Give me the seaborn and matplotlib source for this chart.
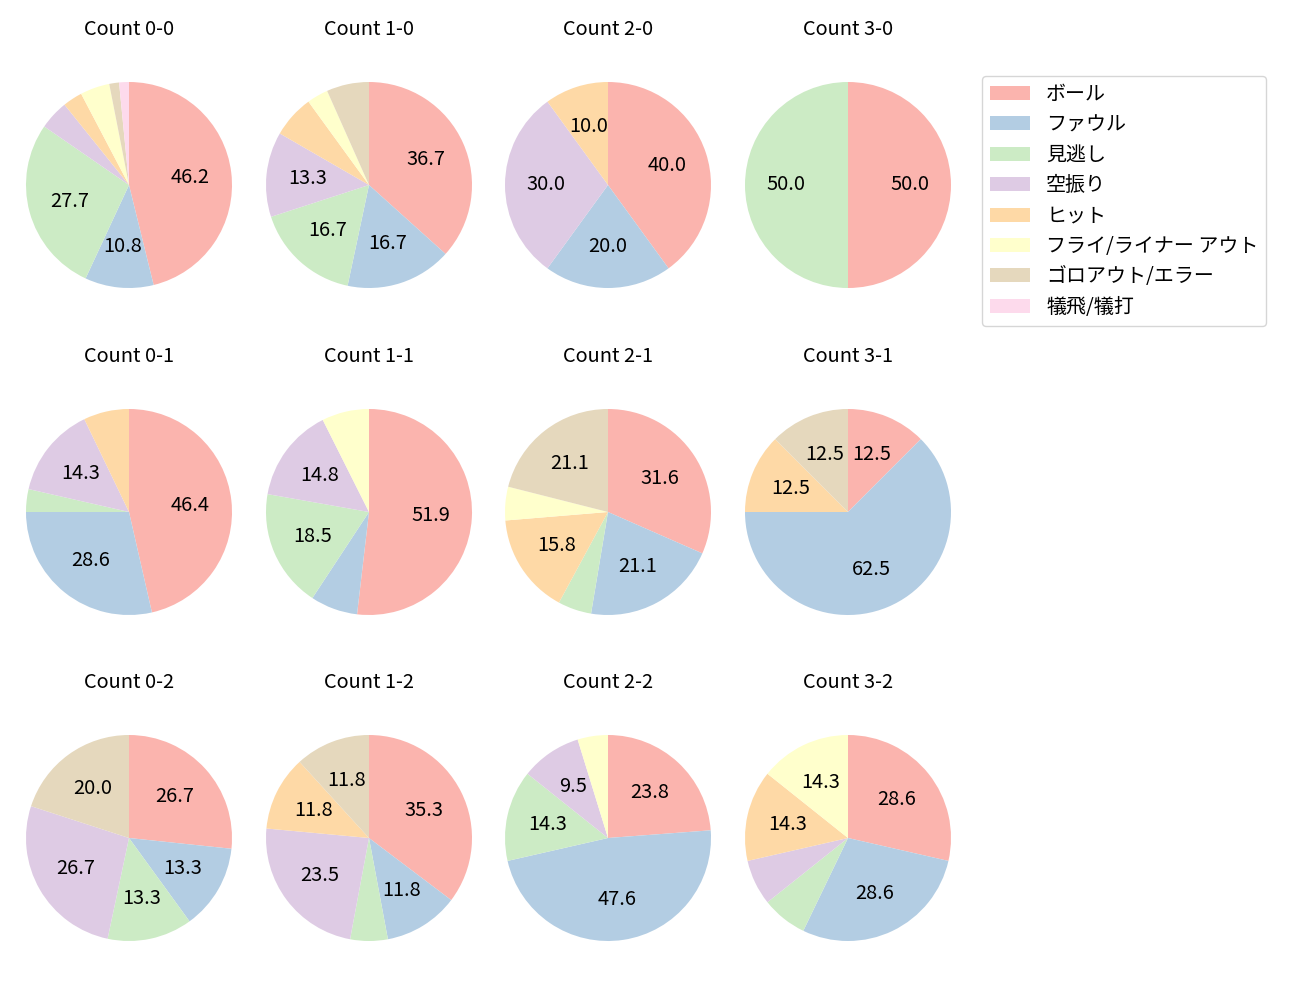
import matplotlib
matplotlib.use("Agg")
import matplotlib.pyplot as plt
import seaborn as sns
from matplotlib.patches import Patch

plt.rcParams['font.family'] = ['Noto Sans CJK JP', 'DejaVu Sans']

categories = ["ボール", "ファウル", "見逃し", "空振り", "ヒット",
              "フライ/ライナー アウト", "ゴロアウト/エラー", "犠飛/犠打"]

counts = ["0-0", "1-0", "2-0", "3-0",
          "0-1", "1-1", "2-1", "3-1",
          "0-2", "1-2", "2-2", "3-2"]

# pitch counts per category (ball, foul, called, swinging, hit, fly, ground, sac)
c00 = [30, 7, 18, 3, 2, 3, 1, 1]
c10 = [11, 5, 5, 4, 2, 1, 2, 0]
c20 = [4, 2, 0, 3, 1, 0, 0, 0]
c30 = [1, 0, 1, 0, 0, 0, 0, 0]
c01 = [13, 8, 1, 4, 2, 0, 0, 0]
c11 = [14, 2, 5, 4, 0, 2, 0, 0]
c21 = [6, 4, 1, 0, 3, 1, 4, 0]
c31 = [1, 5, 0, 0, 1, 0, 1, 0]
c02 = [4, 2, 2, 4, 0, 0, 3, 0]
c12 = [6, 2, 1, 4, 2, 0, 2, 0]
c22 = [5, 10, 3, 2, 0, 1, 0, 0]
c32 = [4, 4, 1, 1, 2, 2, 0, 0]

data = [c00, c10, c20, c30, c01, c11, c21, c31, c02, c12, c22, c32]

colors = sns.color_palette("Pastel1", len(categories))

FS = 14.4

fig = plt.figure(figsize=(13, 10), dpi=100)
W, H = 1300.0, 1000.0
col_cx = [129, 369, 608, 848]
row_cy = [185, 512, 838]
box_w, box_h = 240, 284
R = 103.0

for i, (cnt, vals) in enumerate(zip(counts, data)):
    r, c = divmod(i, 4)
    cx, cy = col_cx[c], row_cy[r]
    ax = fig.add_axes([(cx - box_w / 2) / W, 1 - (cy + box_h / 2) / H, box_w / W, box_h / H])
    nz = [(v, col) for v, col in zip(vals, colors) if v > 0]
    ax.pie([v for v, _ in nz], colors=[col for _, col in nz],
           startangle=90, counterclock=False,
           autopct=lambda p: f"{p:.1f}" if p >= 8 else "",
           pctdistance=0.6, textprops={'fontsize': FS})
    ax.set_aspect('auto')
    L = box_w / (2 * R)
    ax.set_xlim(-L, L)
    ax.set_ylim(-box_h / (2 * R), box_h / (2 * R))
    ax.set_title(f"Count {cnt}", fontsize=FS)

leg_handles = [Patch(facecolor=col) for col in colors]
fig.legend(leg_handles, categories, loc='upper left',
           bbox_to_anchor=(982 / W, 1 - 76 / H), borderaxespad=0,
           fontsize=FS, handlelength=2.0, labelspacing=0.47)

fig.savefig("out.png", dpi=100)
